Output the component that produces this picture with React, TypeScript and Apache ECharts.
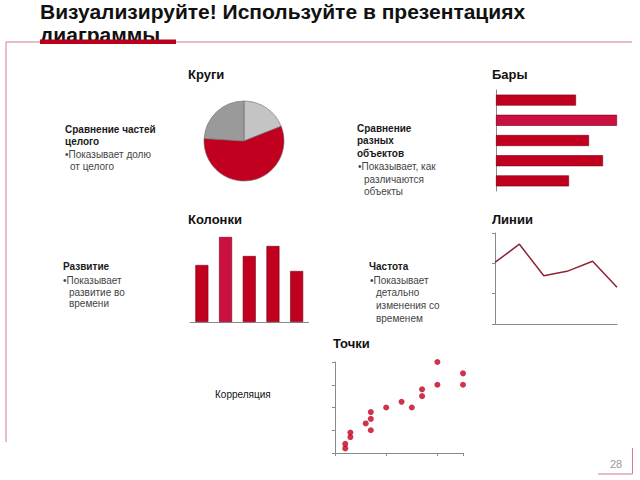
import React, { useEffect, useRef } from "react";
import * as echarts from "echarts";

const titleLines = ["Визуализируйте! Используйте в презентациях", "диаграммы"];
const chartTitles = ["Круги", "Бары", "Колонки", "Линии", "Точки"];

const pieNames = ["Часть 1", "Часть 2", "Часть 3"];
const pieValues = [19, 57, 24];
const pieColors = ["#c4c4c4", "#c0001e", "#9a9a9a"];

const barCategories = ["1", "2", "3", "4", "5"];
const barValues = [80, 121, 93, 107, 73];

const columnCategories = ["1", "2", "3", "4", "5"];
const columnValues = [57, 85, 66, 76, 51];

const lineCategories = ["1", "2", "3", "4", "5", "6"];
const lineValues = [20.3, 26.3, 15.9, 17.5, 20.7, 12.1];

const scatterX = [0.4, 0.4, 0.6, 0.6, 1.2, 1.4, 1.4, 1.4, 2, 2.6, 3, 3.4, 3.4, 4, 4, 5, 5];
const scatterY = [0.4, 0.8, 1.4, 1.8, 2.6, 2, 3, 3.6, 4, 4.5, 4, 5, 5.6, 6, 8, 6, 7];

const pageNumber = "28";

const RED = "#c0001e";
const PINK_RED = "#c9103f";
const AXIS = "#8a8a8a";

type T = { t: string; x: number; y: number; bold?: boolean; color?: string; size?: number };

const descTexts: T[] = [
  { t: "Сравнение частей", x: 65, y: 129, bold: true },
  { t: "целого", x: 65, y: 141, bold: true },
  { t: "•Показывает долю", x: 65, y: 154 },
  { t: "от целого", x: 70, y: 166 },

  { t: "Сравнение", x: 357, y: 128, bold: true },
  { t: "разных", x: 357, y: 140.5, bold: true },
  { t: "объектов", x: 357, y: 153, bold: true },
  { t: "•Показывает, как", x: 358, y: 166.5 },
  { t: "различаются", x: 364, y: 179 },
  { t: "объекты", x: 364, y: 191.5 },

  { t: "Развитие", x: 63, y: 266.5, bold: true },
  { t: "•Показывает", x: 63, y: 280 },
  { t: "развитие во", x: 69, y: 292 },
  { t: "времени", x: 69, y: 303.5 },

  { t: "Частота", x: 369, y: 266.5, bold: true },
  { t: "•Показывает", x: 370, y: 280 },
  { t: "детально", x: 376, y: 292.5 },
  { t: "изменения со", x: 376, y: 305 },
  { t: "временем", x: 376, y: 318 },

  { t: "Корреляция", x: 215, y: 394.5, color: "#111" },
];

const chartTitlePos = [
  { x: 188, y: 74 },
  { x: 492, y: 74 },
  { x: 188, y: 219 },
  { x: 492, y: 219 },
  { x: 333, y: 343 },
];

export default function App() {
  const ref = useRef<HTMLDivElement>(null);
  useEffect(() => {
    if (!ref.current) return;
    const chart = echarts.init(ref.current, null, { renderer: "svg" });
    const font = "'Liberation Sans', Arial, sans-serif";

    const textEls: any[] = [];
    titleLines.forEach((t, i) => {
      textEls.push({
        type: "text",
        z: 1,
        style: {
          text: t,
          x: 40,
          y: 22 + i * 23,
          fill: "#111",
          font: `bold 21px ${font}`,
          textAlign: "left",
          textVerticalAlign: "bottom",
        },
      });
    });
    // cover lower part of the second title line
    textEls.push({
      type: "rect",
      z: 2,
      shape: { x: 0, y: 42.5, width: 640, height: 14 },
      style: { fill: "#ffffff" },
    });
    textEls.push({
      type: "line",
      z: 3,
      shape: { x1: 6, y1: 42, x2: 632, y2: 42 },
      style: { stroke: "#cf7f8e", lineWidth: 1 },
    });
    textEls.push({
      type: "line",
      z: 3,
      shape: { x1: 6, y1: 42, x2: 6, y2: 442 },
      style: { stroke: "#cf7f8e", lineWidth: 1 },
    });
    textEls.push({
      type: "polyline",
      z: 3,
      shape: { points: [[632.5, 448], [632.5, 474], [598, 474]] },
      style: { stroke: "#cf7f8e", lineWidth: 1, fill: "none" },
    });
    textEls.push({
      type: "rect",
      z: 4,
      shape: { x: 40, y: 39.5, width: 136, height: 4.5 },
      style: { fill: "#b8001c" },
    });
    chartTitles.forEach((t, i) => {
      textEls.push({
        type: "text",
        z: 5,
        style: {
          text: t,
          x: chartTitlePos[i].x,
          y: chartTitlePos[i].y,
          fill: "#111",
          font: `bold 13px ${font}`,
          textAlign: "left",
          textVerticalAlign: "middle",
        },
      });
    });
    descTexts.forEach((d) => {
      textEls.push({
        type: "text",
        z: 5,
        style: {
          text: d.t,
          x: d.x,
          y: d.y,
          fill: d.color || (d.bold ? "#1a1a1a" : "#444"),
          font: `${d.bold ? "bold " : ""}${d.size || 10}px ${font}`,
          textAlign: "left",
          textVerticalAlign: "middle",
        },
      });
    });
    textEls.push({
      type: "text",
      z: 5,
      style: {
        text: pageNumber,
        x: 616,
        y: 464,
        fill: "#999",
        font: `11px ${font}`,
        textAlign: "center",
        textVerticalAlign: "middle",
      },
    });

    const axisLine = { show: true, lineStyle: { color: AXIS, width: 1 } };

    const option: any = {
      animation: false,
      backgroundColor: "#ffffff",
      grid: [
        { left: 496, top: 90, width: 130, height: 101 },
        { left: 190, top: 232, width: 118.5, height: 90 },
        { left: 495, top: 233, width: 122, height: 91 },
        { left: 335, top: 362, width: 128, height: 91 },
      ],
      xAxis: [
        { gridIndex: 0, type: "value", min: 0, max: 130, show: false },
        {
          gridIndex: 1,
          type: "category",
          data: columnCategories,
          axisLine,
          axisTick: { show: false },
          axisLabel: { show: false },
        },
        {
          gridIndex: 2,
          type: "category",
          data: lineCategories,
          boundaryGap: false,
          axisLine,
          axisTick: { show: false },
          axisLabel: { show: false },
        },
        {
          gridIndex: 3,
          type: "value",
          min: 0,
          max: 5,
          interval: 2,
          axisLine,
          axisTick: { show: true, length: 3, lineStyle: { color: AXIS } },
          axisLabel: { show: false },
          splitLine: { show: false },
        },
      ],
      yAxis: [
        {
          gridIndex: 0,
          type: "category",
          data: barCategories,
          inverse: true,
          axisLine,
          axisTick: { show: false },
          axisLabel: { show: false },
        },
        { gridIndex: 1, type: "value", min: 0, max: 90, show: false },
        {
          gridIndex: 2,
          type: "value",
          min: 0,
          max: 30,
          interval: 10,
          axisLine,
          axisTick: { show: true, length: 3, lineStyle: { color: AXIS } },
          axisLabel: { show: false },
          splitLine: { show: false },
        },
        {
          gridIndex: 3,
          type: "value",
          min: 0,
          max: 8,
          interval: 2,
          axisLine,
          axisTick: { show: true, length: 3, lineStyle: { color: AXIS } },
          axisLabel: { show: false },
          splitLine: { show: false },
        },
      ],
      series: [
        {
          type: "pie",
          center: [244, 141],
          radius: 40,
          startAngle: 90,
          clockwise: true,
          silent: true,
          label: { show: false },
          labelLine: { show: false },
          itemStyle: { borderColor: "#6a6a6a", borderWidth: 0.6 },
          data: pieValues.map((v, i) => ({
            name: pieNames[i],
            value: v,
            itemStyle: { color: pieColors[i] },
          })),
        },
        {
          type: "bar",
          xAxisIndex: 0,
          yAxisIndex: 0,
          barWidth: 11,
          silent: true,
          data: barValues.map((v, i) => ({
            value: v,
            itemStyle: { color: i === 1 ? PINK_RED : RED },
          })),
          itemStyle: { borderColor: "#7a0012", borderWidth: 0.6 },
        },
        {
          type: "bar",
          xAxisIndex: 1,
          yAxisIndex: 1,
          barWidth: 13,
          silent: true,
          data: columnValues.map((v, i) => ({
            value: v,
            itemStyle: { color: i === 1 ? PINK_RED : RED },
          })),
          itemStyle: { borderColor: "#7a0012", borderWidth: 0.6 },
        },
        {
          type: "line",
          xAxisIndex: 2,
          yAxisIndex: 2,
          data: lineValues,
          symbol: "none",
          silent: true,
          lineStyle: { color: "#8e2434", width: 1.5 },
        },
        {
          type: "scatter",
          xAxisIndex: 3,
          yAxisIndex: 3,
          symbolSize: 6,
          silent: true,
          itemStyle: { color: RED },
          data: scatterX.map((x, i) => [x, scatterY[i]]),
        },
      ],
      graphic: { elements: textEls },
    };
    chart.setOption(option);
    return () => chart.dispose();
  }, []);
  return (
    <div
      ref={ref}
      style={{ position: "absolute", left: 0, top: 0, width: 640, height: 480 }}
    />
  );
}
